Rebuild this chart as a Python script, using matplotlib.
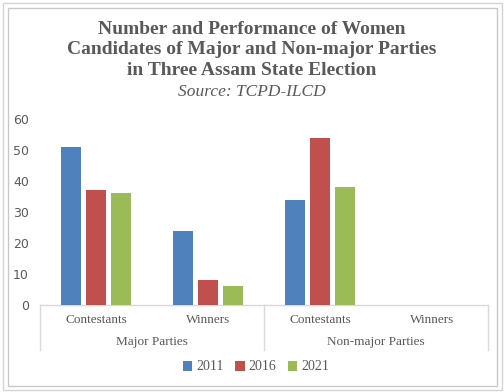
import matplotlib
matplotlib.use("Agg")
import matplotlib.pyplot as plt
import numpy as np
from matplotlib.patches import Rectangle
from matplotlib.lines import Line2D

# data
groups = ["Major Parties", "Non-major Parties"]
subcats = ["Contestants", "Winners", "Contestants", "Winners"]
years = ["2011", "2016", "2021"]
v2011 = [51, 24, 34, 0]
v2016 = [37, 8, 54, 0]
v2021 = [36, 6, 38, 0]
colors = ["#4F81BD", "#C0504D", "#9BBB59"]

txt = "#595959"
line_c = "#D9D9D9"
serif = ["Liberation Serif", "DejaVu Serif"]

W, H = 504, 392
fig = plt.figure(figsize=(W / 100, H / 100), dpi=100)

# plot area in pixels: x 40..488, y 119..305
ax = fig.add_axes([40 / W, (H - 305) / H, 448 / W, 186 / H])

x = np.arange(len(subcats))
bw = 0.18
step = 0.223
for i, (vals, c) in enumerate(zip([v2011, v2016, v2021], colors)):
    ax.bar(x + (i - 1) * step, vals, width=bw, color=c, label=years[i], zorder=3)

ax.set_xlim(-0.5, len(subcats) - 0.5)
ax.set_ylim(0, 60)
ax.set_yticks(range(0, 61, 10))
ax.set_xticks([])
for s in ["top", "right", "left"]:
    ax.spines[s].set_visible(False)
ax.spines["bottom"].set_color(line_c)
ax.spines["bottom"].set_linewidth(1)
ax.tick_params(axis="y", length=0, pad=8, labelcolor=txt, labelsize=9)
for lab in ax.get_yticklabels():
    lab.set_family(["DejaVu Sans"])

# multi-level category axis
for xs in [-0.5, 1.5, 3.5]:
    ax.add_line(Line2D([xs, xs], [0, -(350 - 305) / 3.1], color=line_c, lw=1,
                       clip_on=False))
for xi, lab in zip(x, subcats):
    ax.text(xi, -(320 - 305) / 3.1, lab, ha="center", va="center", fontsize=9.5,
            color=txt, family=serif)
for gi, g in enumerate(groups):
    ax.text(gi * 2 + 0.5, -(342 - 305) / 3.1, g, ha="center", va="center",
            fontsize=9.5, color=txt, family=serif)

# title
fig.text(0.5, 1 - 50 / H, "Number and Performance of Women\n"
         "Candidates of Major and Non-major Parties\n"
         "in Three Assam State Election",
         ha="center", va="center", fontsize=14, fontweight="bold", color=txt,
         family=serif, linespacing=1.3)
fig.text(0.5, 1 - 92 / H, "Source: TCPD-ILCD", ha="center", va="center",
         fontsize=12.5, style="italic", color=txt, family=serif)

# legend
leg = fig.legend(loc="center", bbox_to_anchor=(256 / W, 1 - 367 / H), ncol=3,
                 frameon=False, handlelength=0.7, handleheight=0.7,
                 handletextpad=0.3, columnspacing=0.8,
                 prop={"family": serif, "size": 10})
for t in leg.get_texts():
    t.set_color(txt)

# chart frame
fig.patches.append(Rectangle((8 / W, 1 - 386 / H), 489 / W, 378 / H,
                             transform=fig.transFigure, fill=False,
                             edgecolor="#C8C8C8", lw=1))
fig.patches.append(Rectangle((3 / W, 1 - 390 / H), 499 / W, 387 / H,
                             transform=fig.transFigure, fill=False,
                             edgecolor="#D4D4D4", lw=1))

fig.savefig("out.png", dpi=100)
